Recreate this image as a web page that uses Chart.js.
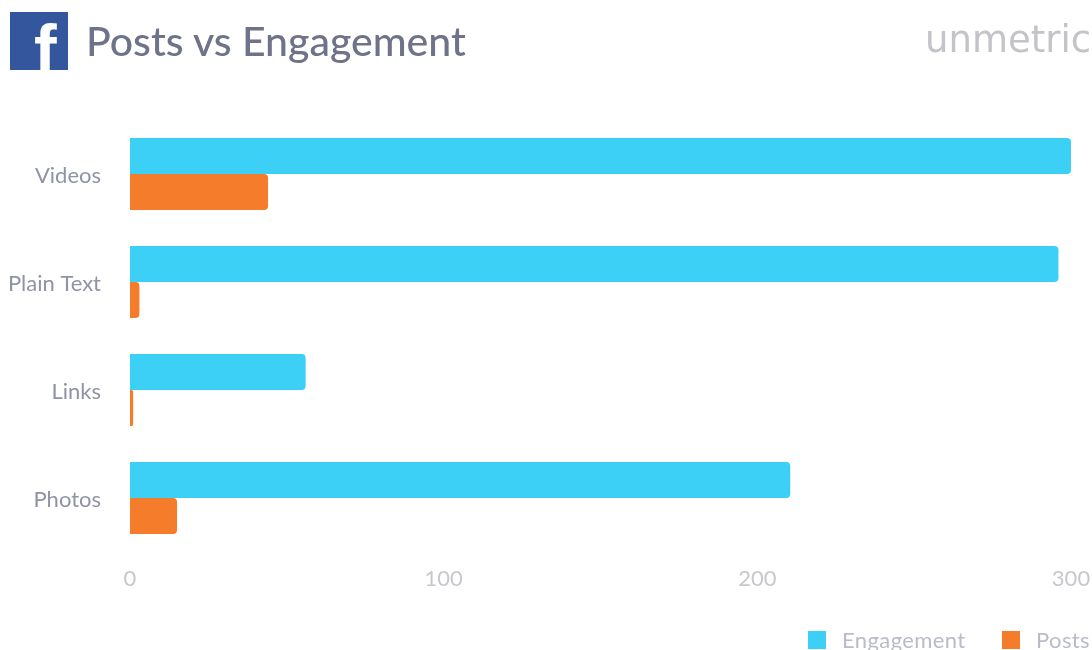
<!DOCTYPE html>
<html>
<head>
<meta charset="utf-8">
<title>Posts vs Engagement</title>
<script src="https://cdn.jsdelivr.net/npm/chart.js@4"></script>
<style>
    html, body { margin: 0; padding: 0; background: #fff; overflow: hidden; }
    #page { position: relative; width: 1092px; height: 650px; }
    #chart_box { position: absolute; left: 0; top: 0; width: 1092px; height: 650px; }
    #fb_logo {
        position: absolute; left: 10px; top: 12px; width: 58px; height: 58px;
        background: #34569c; overflow: hidden;
    }
    #fb_logo span {
        position: absolute; left: 24px; top: 3px; color: #fff;
        font: bold 68px "Liberation Sans", sans-serif; line-height: 68px;
    }
    #title {
        position: absolute; left: 86px; top: 14px; color: #6f7389;
        font: 500 41px Lato, sans-serif; line-height: 54px; white-space: nowrap;
    }
    #brand {
        position: absolute; left: 925px; top: 16px; color: #c4c4c8;
        font: 37px "DejaVu Sans", sans-serif; line-height: 48px; white-space: nowrap;
    }
    #legend span { position: absolute; white-space: nowrap; }
    #legend .swatch { width: 18px; height: 18px; top: 631px; }
    #legend .name {
        top: 626px; color: #b9bcc8; letter-spacing: 0.4px;
        font: 22px Lato, sans-serif; line-height: 28px;
    }
</style>
</head>
<body>
<div id="page">
    <div id="chart_box"><canvas id="barChart" width="1092" height="650"></canvas></div>
    <div id="fb_logo"><span>f</span></div>
    <div id="title">Posts vs Engagement</div>
    <div id="brand">unmetric</div>
    <div id="legend"></div>
</div>
<script>
const categories = ['Videos', 'Plain Text', 'Links', 'Photos'];
const engagement = [300, 296, 56, 210.5];
const posts = [44, 3, 1, 15];
const xTicks = [0, 100, 200, 300];

const engagementColor = '#3dd0f7';
const postsColor = '#f47c2b';

const ctx = document.getElementById('barChart').getContext('2d');
const chart = new Chart(ctx, {
    type: 'bar',
    data: {
        labels: categories,
        datasets: [
            {
                label: 'Engagement',
                data: engagement,
                backgroundColor: engagementColor,
                borderRadius: { topRight: 4, bottomRight: 4 },
                borderSkipped: false
            },
            {
                label: 'Posts',
                data: posts,
                backgroundColor: postsColor,
                borderRadius: { topRight: 4, bottomRight: 4 },
                borderSkipped: false
            }
        ]
    },
    options: {
        indexAxis: 'y',
        responsive: false,
        animation: false,
        datasets: { bar: { categoryPercentage: 0.667, barPercentage: 1 } },
        layout: { padding: { top: 120, right: 21, bottom: 44, left: 0 } },
        scales: {
            x: {
                min: 0,
                max: 300,
                afterBuildTicks: axis => { axis.ticks = xTicks.map(value => ({ value })); },
                grid: { display: false, drawTicks: false },
                border: { display: false },
                ticks: {
                    color: '#c6c8cc',
                    padding: 14,
                    maxRotation: 0,
                    font: { family: 'Lato', size: 22 }
                },
                afterFit: axis => {
                    axis.height = 54;
                    axis.paddingLeft = 0;
                    axis.paddingRight = 0;
                }
            },
            y: {
                grid: { display: false, drawTicks: false },
                border: { display: false },
                ticks: {
                    color: '#8f93a5',
                    padding: 29,
                    labelOffset: 2,
                    font: { family: 'Lato', size: 22 }
                },
                afterFit: axis => { axis.width = 130; }
            }
        },
        plugins: {
            tooltip: { enabled: false },
            legend: { display: false }
        }
    }
});

// legend sits under the axis at the far right, outside the canvas layout
const legendDom = document.getElementById('legend');
const legendX = [[808, 842], [1002, 1036]];
chart.data.datasets.forEach((set, i) => {
    const swatch = document.createElement('span');
    swatch.className = 'swatch';
    swatch.style.left = legendX[i][0] + 'px';
    swatch.style.background = set.backgroundColor;
    const name = document.createElement('span');
    name.className = 'name';
    name.style.left = legendX[i][1] + 'px';
    name.textContent = set.label;
    legendDom.append(swatch, name);
});
</script>
</body>
</html>
